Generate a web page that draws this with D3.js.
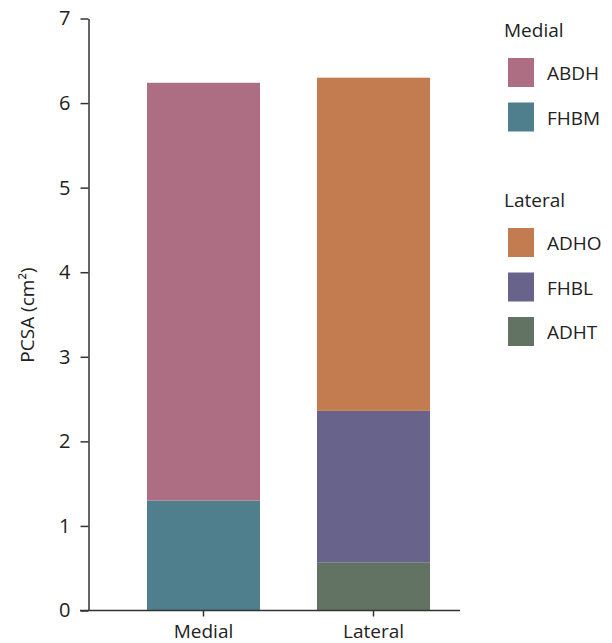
<!DOCTYPE html>
<html><head><meta charset="utf-8">
<script src="https://cdn.jsdelivr.net/npm/d3@7"></script>
<style>body{margin:0;background:#fff}svg{display:block}text{font-family:"Open Sans","Noto Sans",sans-serif;fill:#222}</style>
</head><body>
<script>
const categories = ["Medial", "Lateral"];
const muscles = ["FHBM", "ABDH", "ADHT", "FHBL", "ADHO"];
const muscleGroup = ["Medial", "Medial", "Lateral", "Lateral", "Lateral"];
const muscleValues = [1.30, 4.94, 0.57, 1.79, 3.94];
const muscleColors = ["#4f7f8c", "#ad6e84", "#627363", "#68638b", "#c27c4f"];
const yTicks = [0, 1, 2, 3, 4, 5, 6, 7];
const legendGroups = [
  {title: "Medial", items: ["ABDH", "FHBM"]},
  {title: "Lateral", items: ["ADHO", "FHBL", "ADHT"]}
];

const W = 612, H = 643;
const svg = d3.select("body").append("svg").attr("width", W).attr("height", H);
const y = d3.scaleLinear().domain([0, 7]).range([610.5, 18.5]);
const x = d3.scaleBand().domain(categories).range([118.5, 458.5]).paddingInner(0.335).paddingOuter(0.1675);

// stacked segments
const segs = [];
categories.forEach(c => {
  let base = 0;
  muscles.forEach((m, i) => {
    if (muscleGroup[i] === c) {
      segs.push({c, m, y0: base, y1: base + muscleValues[i], color: muscleColors[i]});
      base += muscleValues[i];
    }
  });
});
svg.append("g").selectAll("rect").data(segs).join("rect")
  .attr("x", d => x(d.c)).attr("width", x.bandwidth())
  .attr("y", d => y(d.y1)).attr("height", d => y(d.y0) - y(d.y1))
  .attr("fill", d => d.color);

// y axis
const ya = svg.append("g").attr("transform", "translate(88.5,0)")
  .call(d3.axisLeft(y).tickValues(yTicks).tickFormat(d3.format("d")).tickSize(8).tickSizeOuter(0).tickPadding(10));
ya.select(".domain").attr("stroke", "#333").attr("stroke-width", 1.5);
ya.selectAll(".tick line").attr("stroke", "#333").attr("stroke-width", 1.5);
ya.selectAll(".tick text").style("font-size", "20px").attr("fill", "#333");

// x axis
const xa = svg.append("g").attr("transform", "translate(0,610.5)")
  .call(d3.axisBottom(x).tickSize(6).tickSizeOuter(0).tickPadding(8));
xa.select(".domain").attr("d", "M80,0H460").attr("stroke", "#333").attr("stroke-width", 1.5);
xa.selectAll(".tick line").attr("stroke", "#333").attr("stroke-width", 1.5);
xa.selectAll(".tick text").style("font-size", "19px").attr("fill", "#333");

// y label
svg.append("text").attr("transform", "translate(34,315) rotate(-90)")
  .attr("text-anchor", "middle").style("font-size", "19px").text("PCSA (cm²)");

// legend
const colorOf = m => muscleColors[muscles.indexOf(m)];
let ly = 37;
legendGroups.forEach((g, gi) => {
  svg.append("text").attr("x", 504).attr("y", ly).style("font-size", "19px").text(g.title);
  g.items.forEach((m, i) => {
    const top = ly + 21 + i * 44.5;
    svg.append("rect").attr("x", 508).attr("y", top).attr("width", 26).attr("height", 29).attr("fill", colorOf(m));
    svg.append("text").attr("x", 547).attr("y", top + 22).style("font-size", "19px").attr("fill", "#333").text(m);
  });
  ly = 207;
});
</script>
</body></html>
